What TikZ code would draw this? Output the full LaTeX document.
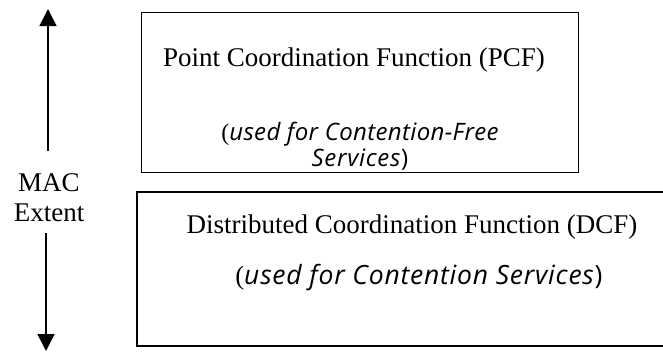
\documentclass[tikz,border=0pt]{standalone}
\usepackage{fontspec}
\setmainfont{Liberation Serif}
\newfontfamily\itsans[LetterSpace=3]{Open Sans}
\newfontfamily\itsanstight[LetterSpace=1.5]{Open Sans}
\usetikzlibrary{arrows.meta}
\begin{document}
\begin{tikzpicture}[x=1pt,y=-1pt,
  frame/.style={draw=black,line width=1.2pt},
  title/.style={font=\fontsize{27}{30}\selectfont,inner sep=0pt},
  note/.style={font=\fontsize{26.5}{26}\selectfont,inner sep=0pt,align=center},
  extent/.style={line width=1.6pt,-{Triangle[width=17pt,length=17pt]}}]
\useasboundingbox (0,0) rectangle (663,354);
% upper box
\node[frame,minimum width=437pt,minimum height=160pt,anchor=north west,inner sep=0pt] (pcf) at (141,12) {};
\node[title] (pcftitle) at (354,60) {Point Coordination Function (PCF)};
\node[note,font=\fontsize{24}{26}\selectfont] (pcfnote) at (360,146) {(\itsanstight\itshape used for Contention-Free\\\itsans\itshape Services\/\upshape)};
% lower box, open towards the right
\coordinate (dtr) at (663,192);
\coordinate (dbr) at (663,346);
\draw[frame] (dtr) -- (137,192) coordinate (dtl) -- (137,346) coordinate (dbl) -- (dbr);
\node[title] (dcftitle) at (412,227) {Distributed Coordination Function (DCF)};
\node[note] (dcfnote) at (419,278) {(\itsans\itshape used for Contention Services\/\upshape)};
% side label and arrows
\node[font=\fontsize{27}{30}\selectfont,align=center,inner sep=0pt] (mac) at (49,198) {MAC\\Extent};
\coordinate (uptip) at (48,9);
\coordinate (upstart) at (48,151);
\coordinate (dnstart) at (46,233);
\coordinate (dntip) at (46,351);
\draw[extent] (upstart) -- (uptip);
\draw[extent] (dnstart) -- (dntip);
\end{tikzpicture}
\end{document}
